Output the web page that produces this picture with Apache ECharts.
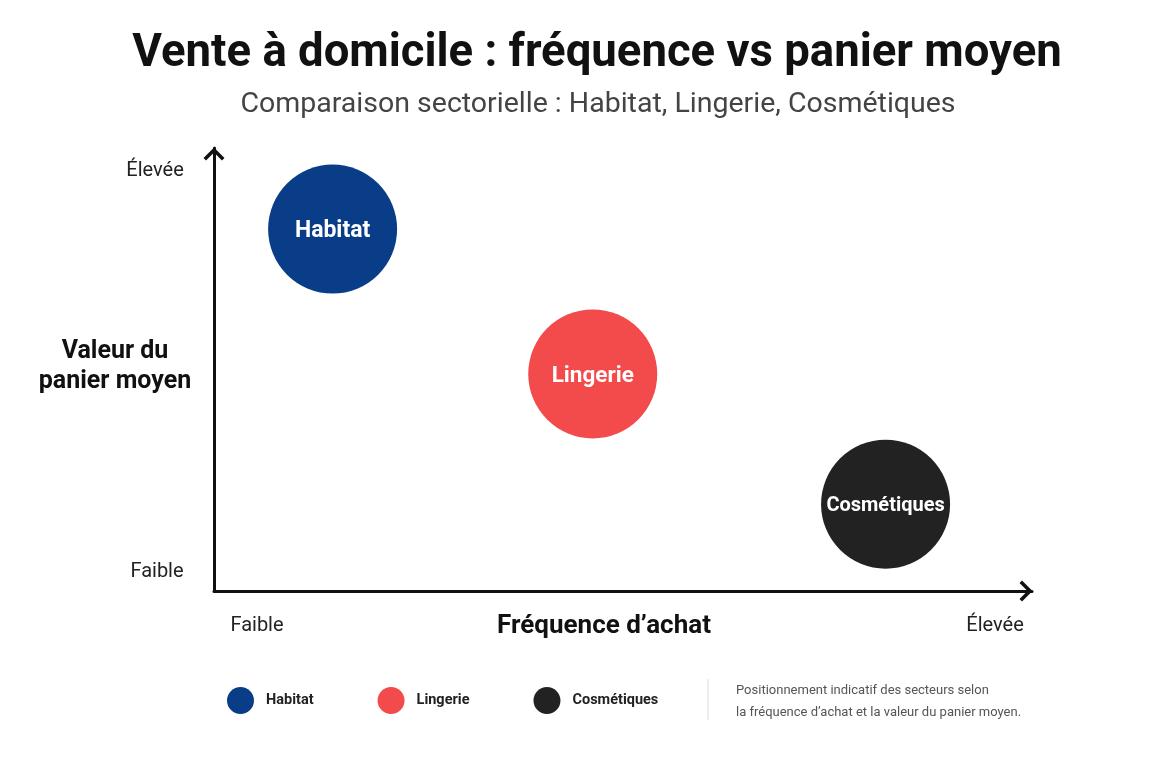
<!DOCTYPE html>
<html>
<head>
<meta charset="utf-8">
<script src="https://cdn.jsdelivr.net/npm/echarts@6/dist/echarts.min.js"></script>
<style>html,body{margin:0;padding:0;background:#fff}#c{width:1152px;height:768px}</style>
</head>
<body>
<div id="c"></div>
<script>
// Data (indicative scale 0..10)
const sectors = ['Habitat', 'Lingerie', 'Cosmétiques'];
const frequence = [1.45, 4.63, 8.21];    // x: fréquence d'achat
const panier = [8.17, 4.9, 1.96];        // y: valeur du panier moyen
const colors = ['#0a3d88', '#f34a4b', '#222222'];
const axisEndLabels = ['Faible', 'Élevée'];

const FONT = 'Roboto, "Liberation Sans", sans-serif';
const labelSizes = [23, 22.5, 20];
const chart = echarts.init(document.getElementById('c'));

const arrowPath = 'path://M10,0 L20,10 L17.6,12.4 L10,4.8 L2.4,12.4 L0,10 Z';

const series = sectors.map((name, i) => ({
  name: name,
  type: 'scatter',
  symbol: 'circle',
  symbolSize: 129,
  itemStyle: { color: colors[i], opacity: 1 },
  label: {
    show: true, position: 'inside', formatter: '{a}', offset: [0, 2],
    color: '#fff', fontFamily: FONT, fontWeight: 'bold', fontSize: labelSizes[i]
  },
  emphasis: { disabled: true },
  data: [[frequence[i], panier[i]]]
}));

chart.setOption({
  backgroundColor: '#fff',
  animation: false,
  title: [
    { text: 'Vente à domicile : fréquence vs panier moyen', left: 597, top: 32, padding: 0, textAlign: 'center',
      textStyle: { fontFamily: FONT, fontWeight: 'bold', fontSize: 45.5, color: '#111' } },
    { text: 'Comparaison sectorielle : Habitat, Lingerie, Cosmétiques', left: 598, top: 90, padding: 0, textAlign: 'center',
      textStyle: { fontFamily: FONT, fontWeight: 'normal', fontSize: 28.5, color: '#444' } }
  ],
  grid: { left: 214, right: 120, top: 148, bottom: 177, containLabel: false },
  xAxis: {
    type: 'value', min: 0, max: 10,
    axisLine: { show: true, onZero: false, symbol: ['none', arrowPath], symbolSize: [22, 13], symbolOffset: [0, -6],
      lineStyle: { color: '#111', width: 3 } },
    axisTick: { show: false }, axisLabel: { show: false }, splitLine: { show: false }
  },
  yAxis: {
    type: 'value', min: 0, max: 10,
    axisLine: { show: true, onZero: false, symbol: ['none', arrowPath], symbolSize: [22, 13], symbolOffset: [0, -6],
      lineStyle: { color: '#111', width: 3 } },
    axisTick: { show: false }, axisLabel: { show: false }, splitLine: { show: false }
  },
  legend: {
    data: sectors, left: 222, top: 682, icon: 'circle', itemWidth: 27, itemHeight: 27, itemGap: 64,
    textStyle: { fontFamily: FONT, fontSize: 14.5, fontWeight: 'bold', color: '#222', padding: [0, 0, 0, 7] },
    selectedMode: false
  },
  graphic: [
    { type: 'text', x: 155, y: 171, style: { text: axisEndLabels[1], font: '20px ' + FONT, fill: '#222', align: 'center', verticalAlign: 'middle' } },
    { type: 'text', x: 157, y: 572, style: { text: axisEndLabels[0], font: '20px ' + FONT, fill: '#222', align: 'center', verticalAlign: 'middle' } },
    { type: 'text', x: 257, y: 626, style: { text: axisEndLabels[0], font: '20px ' + FONT, fill: '#222', align: 'center', verticalAlign: 'middle' } },
    { type: 'text', x: 995, y: 626, style: { text: axisEndLabels[1], font: '20px ' + FONT, fill: '#222', align: 'center', verticalAlign: 'middle' } },
    { type: 'text', x: 604, y: 626, style: { text: 'Fréquence d’achat', font: 'bold 26px ' + FONT, fill: '#111', align: 'center', verticalAlign: 'middle' } },
    { type: 'text', x: 115, y: 367, style: { text: 'Valeur du\npanier moyen', font: 'bold 25px ' + FONT, fill: '#111', align: 'center', verticalAlign: 'middle', lineHeight: 30 } },
    { type: 'line', shape: { x1: 708, y1: 679, x2: 708, y2: 720 }, style: { stroke: '#ddd', lineWidth: 1 } },
    { type: 'text', x: 736, y: 702, style: { text: 'Positionnement indicatif des secteurs selon\nla fréquence d’achat et la valeur du panier moyen.', font: '13px ' + FONT, fill: '#555', align: 'left', verticalAlign: 'middle', lineHeight: 22 } }
  ],
  series: series
});
</script>
</body>
</html>
